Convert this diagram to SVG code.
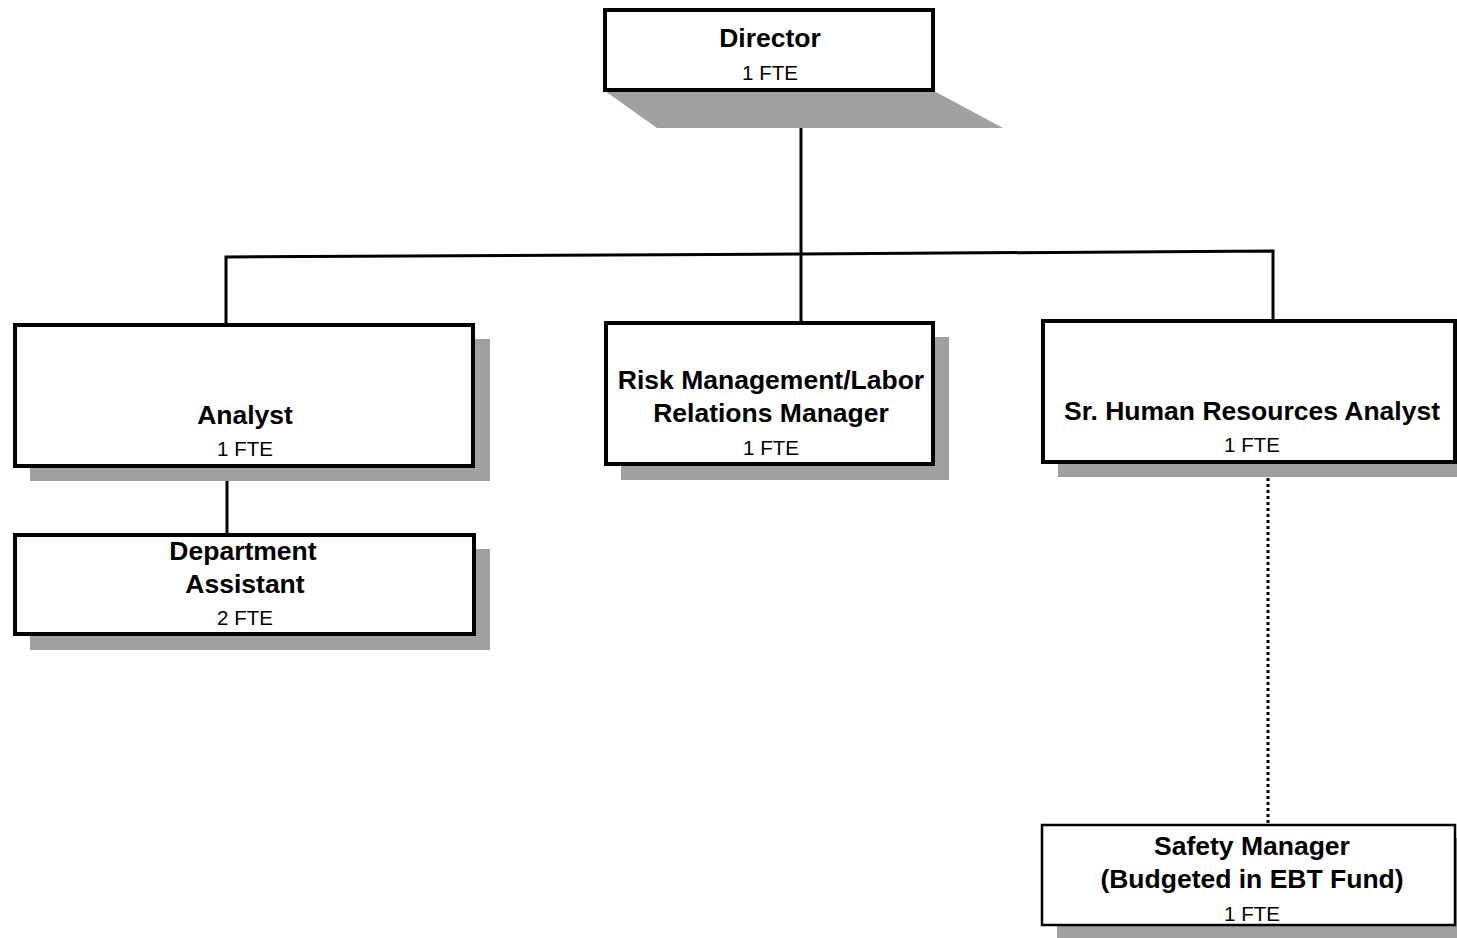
<svg xmlns="http://www.w3.org/2000/svg" width="1457" height="938" viewBox="0 0 1457 938">
<style>
.box{fill:#fff;stroke:#000;stroke-width:4}
.thin{stroke-width:2.5}
.shadow{fill:#a0a0a0}
.t{font-family:"Liberation Sans",Arial,sans-serif;font-size:26.5px;font-weight:bold;text-anchor:middle;fill:#000}
.f{font-family:"Liberation Sans",Arial,sans-serif;font-size:20.5px;text-anchor:middle;fill:#000}
.c{fill:none;stroke:#000;stroke-width:3}
.d{fill:none;stroke:#000;stroke-width:3;stroke-dasharray:3 3}
</style>
<rect width="1457" height="938" fill="#fff"/>
<g id="connectors">
<line class="c" x1="801" y1="128" x2="801" y2="322"/>
<polyline class="c" points="226,324 226,257 801,254 1273,251 1273,320"/>
<line class="c" x1="227" y1="481" x2="227" y2="534"/>
<line class="d" x1="1268" y1="478" x2="1268" y2="824"/>
</g>
<g id="director">
<polygon class="shadow" points="605,91 934,91 1003,128 657,128"/>
<rect class="box" x="605" y="10" width="328" height="80"/>
<text class="t" x="770" y="47">Director</text>
<text class="f" x="770" y="80">1 FTE</text>
</g>
<g id="analyst">
<rect class="shadow" x="30" y="339" width="460" height="142"/>
<rect class="box" x="15" y="325" width="458" height="141"/>
<text class="t" x="245" y="424">Analyst</text>
<text class="f" x="245" y="456">1 FTE</text>
</g>
<g id="dept-assistant">
<rect class="shadow" x="30" y="549" width="460" height="101"/>
<rect class="box" x="15" y="535" width="459" height="99"/>
<text class="t" x="243" y="560">Department</text>
<text class="t" x="245" y="593">Assistant</text>
<text class="f" x="245" y="625">2 FTE</text>
</g>
<g id="risk-manager">
<rect class="shadow" x="621" y="337" width="328" height="143"/>
<rect class="box" x="606" y="323" width="327" height="141"/>
<text class="t" x="771" y="389">Risk Management/Labor</text>
<text class="t" x="771" y="422">Relations Manager</text>
<text class="f" x="771" y="455">1 FTE</text>
</g>
<g id="sr-hr-analyst">
<rect class="shadow" x="1058" y="335" width="399" height="142"/>
<rect class="box" x="1043" y="321" width="412" height="141"/>
<text class="t" x="1252" y="420">Sr. Human Resources Analyst</text>
<text class="f" x="1252" y="452">1 FTE</text>
</g>
<g id="safety-manager">
<rect class="shadow" x="1057" y="838" width="400" height="100"/>
<rect class="box thin" x="1042" y="825" width="413" height="100"/>
<text class="t" x="1252" y="855">Safety Manager</text>
<text class="t" x="1252" y="888">(Budgeted in EBT Fund)</text>
<text class="f" x="1252" y="921">1 FTE</text>
</g>
</svg>
